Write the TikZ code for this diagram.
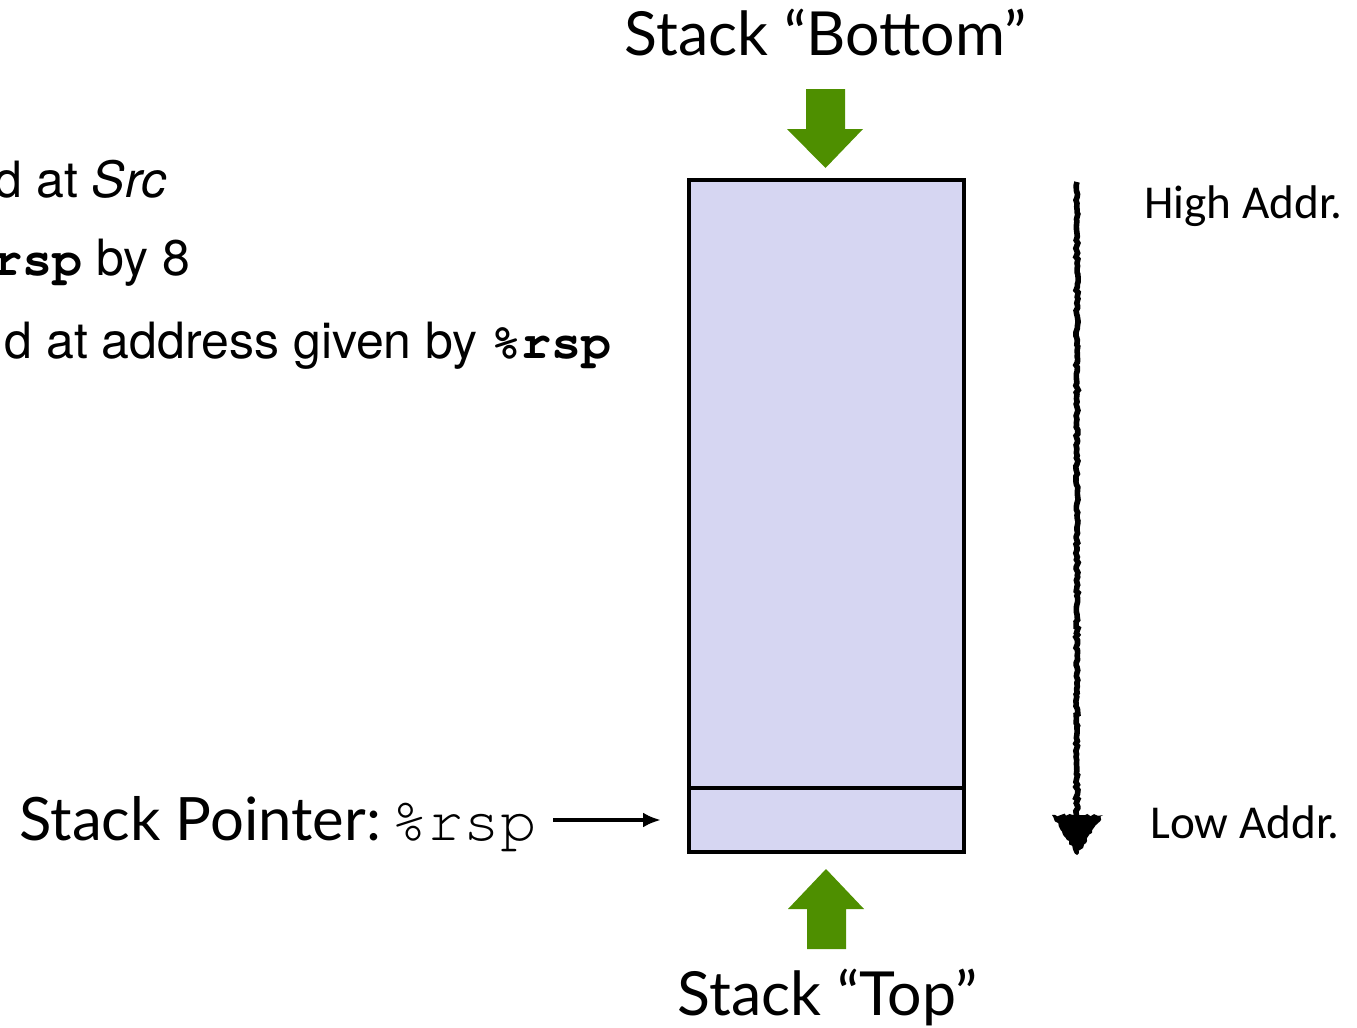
\documentclass[tikz,border=0pt]{standalone}
\usepackage{fontspec}
\usetikzlibrary{decorations.pathmorphing,arrows.meta}
\newfontfamily\gillf{Lato}
\newfontfamily\calf{Carlito}
\newfontfamily\helvf{TeX Gyre Heros}
\newfontfamily\courf{TeX Gyre Cursor}
\definecolor{stackfill}{HTML}{D6D6F2}
\definecolor{arrgreen}{HTML}{4E8F00}
\begin{document}
\begin{tikzpicture}[x=0.5pt,y=-0.5pt,
  biglbl/.style={inner sep=0pt, anchor=base, font=\gillf\fontsize{30.4}{35}\selectfont},
  addrlbl/.style={inner sep=0pt, anchor=base west, font=\calf\fontsize{23.6}{28}\selectfont},
  lefttxt/.style={inner sep=0pt, anchor=base east, font=\helvf\fontsize{25}{30}\selectfont},
  cell/.style={draw=black, line width=2pt, fill=stackfill, minimum width=137.5pt, inner sep=0pt},
  greenarrow/.style={fill=arrgreen, draw=none},
  rough/.style={line width=2.8pt, decorate, decoration={random steps, segment length=1.5pt, amplitude=0.6pt}},
  ptrarrow/.style={line width=1.8pt, -{Latex[length=9pt,width=7.5pt]}}]
\useasboundingbox (0,0) rectangle (1357,1028);
\clip (0,0) rectangle (1357,1028);

% stack
\node[cell, minimum height=304pt] (stack) at (826.5,484) {};
\node[cell, minimum height=32pt] (topcell) at (826.5,820) {};

% green arrows
\fill[greenarrow] (806,89) -- (845,89) -- (845,129) -- (863,129) -- (825.5,168) -- (787,129) -- (806,129) -- cycle;
\fill[greenarrow] (807,949) -- (846,949) -- (846,909) -- (864,909) -- (826,869) -- (788,909) -- (807,909) -- cycle;

% labels
\node[biglbl] (bottomlbl) at (825.5,55) {Stack “Bottom”};
\node[biglbl] (toplbl) at (827.5,1015) {Stack “Top”};

\node[inner sep=0pt, anchor=base west] (sp) at (19,840)
  {\gillf\fontsize{29.9}{35}\selectfont Stack Pointer:\hspace{5pt}\courf\fontsize{30.4}{35}\selectfont\%rsp};
\draw[ptrarrow, shorten <=8pt, shorten >=13pt] (sp.east |- topcell.west) -- (topcell.west);

% address arrow
\coordinate (hi) at (1077,182);
\coordinate (lo) at (1077,855);
\draw[rough] (hi) -- (1077,818);
\fill[black, decorate, decoration={random steps, segment length=1.5pt, amplitude=0.7pt}]
  (1052,815) -- (1103,815) -- (lo) -- cycle;
\node[addrlbl] (high) at (1144,218) {High Addr.};
\node[addrlbl] (low) at (1150,838) {Low Addr.};

% clipped instruction text
\node[lefttxt] (l1) at (167,197) {d at \textit{Src}};
\node[lefttxt] (l2) at (191,275) {{\courf\bfseries rsp} by 8};
\node[lefttxt] (l3) at (612,358) {d at address given by {\courf\bfseries\%rsp}};
\end{tikzpicture}
\end{document}
